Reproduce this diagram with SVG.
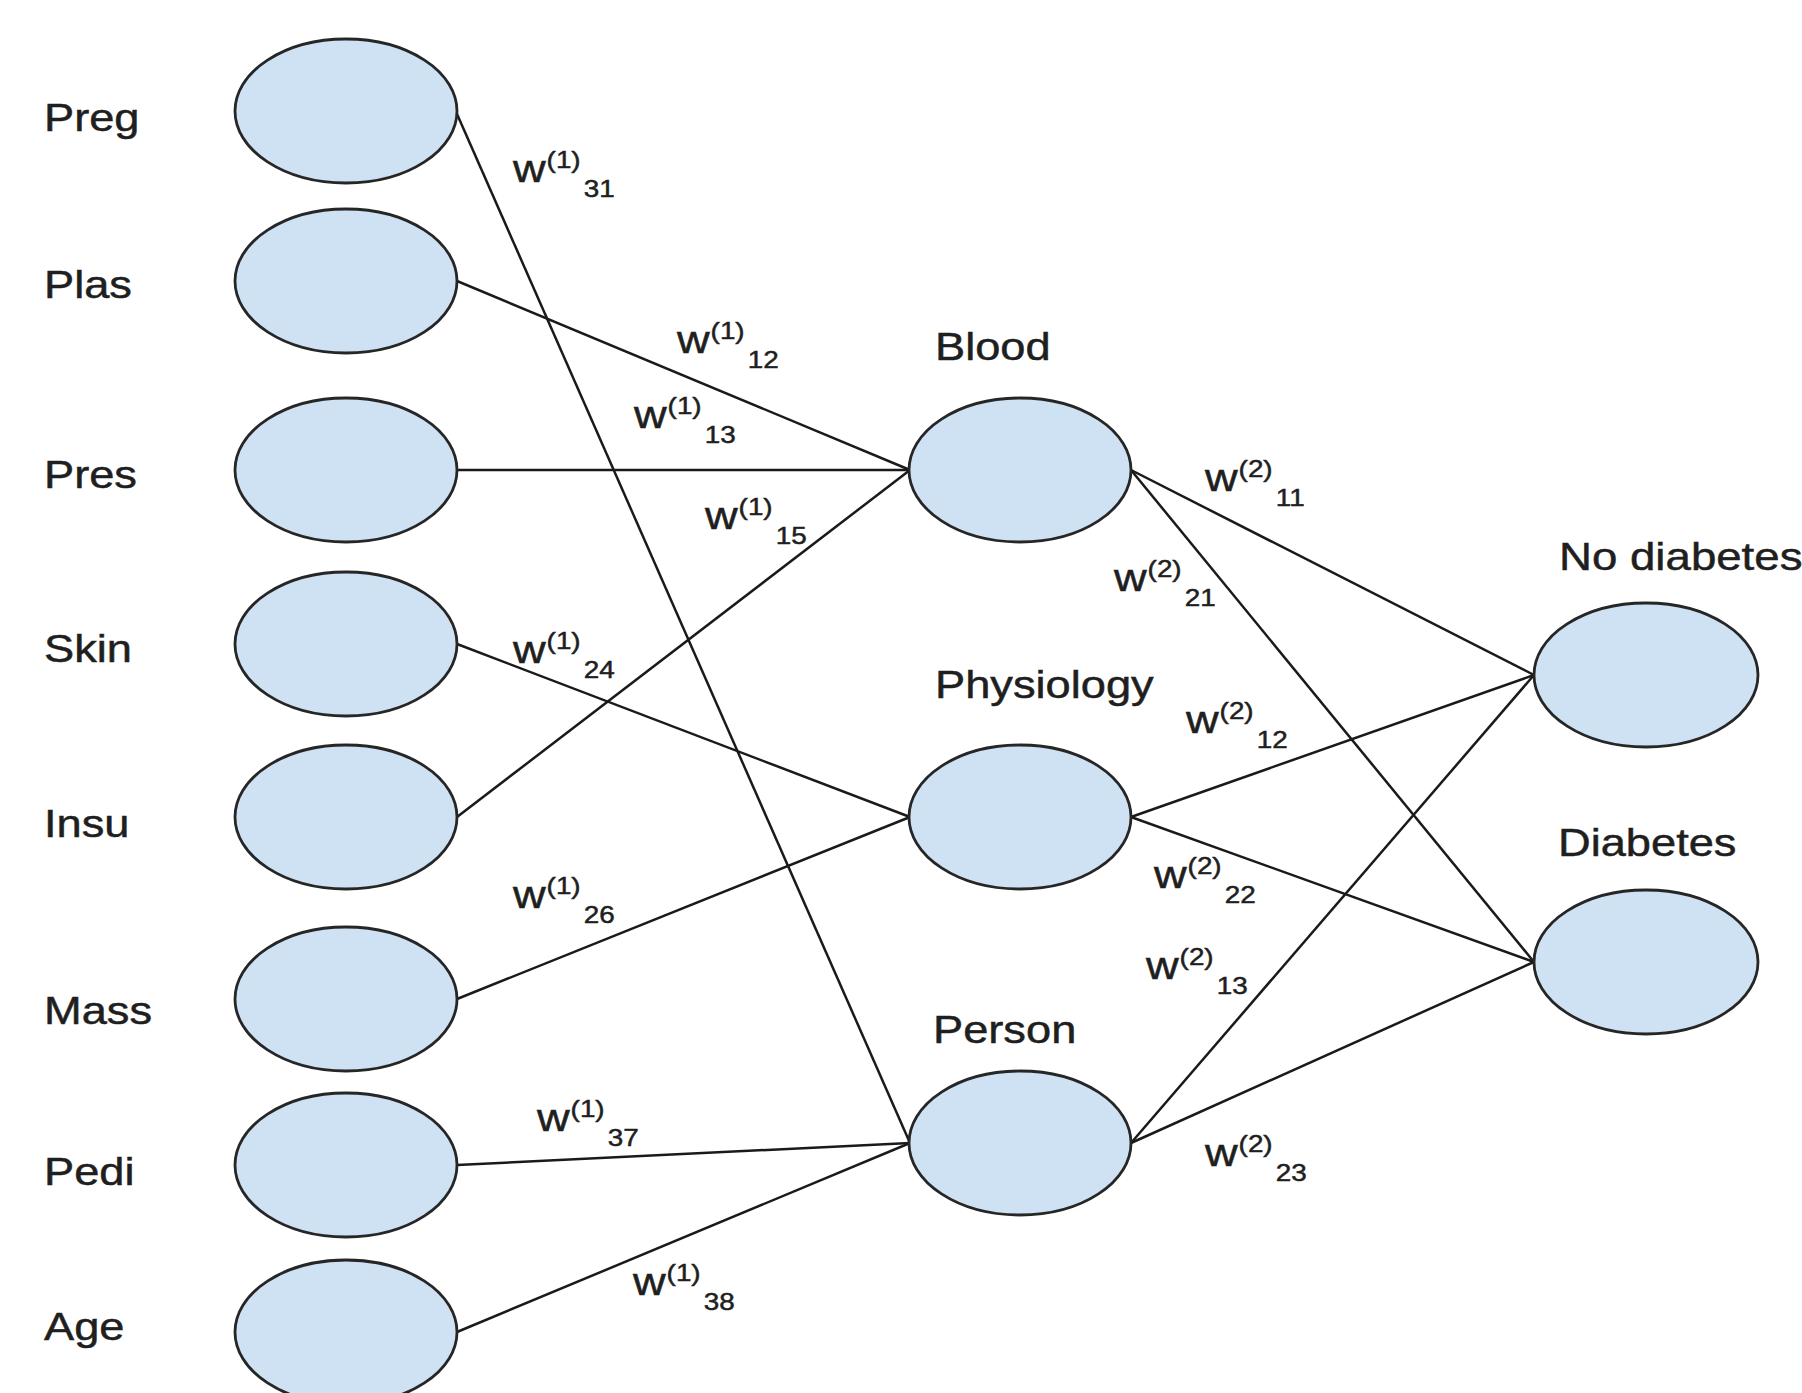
<svg xmlns="http://www.w3.org/2000/svg" width="1802" height="1393" viewBox="0 0 1802 1393">
<style>
.node ellipse{fill:#cfe2f3;stroke:#262626;stroke-width:2.8}
.lbl{font-family:"Liberation Sans",Arial,sans-serif;font-size:39px;fill:#1f1f1f;stroke:#1f1f1f;stroke-width:0.5}
.conn line{stroke:#1a1a1a;stroke-width:2.5;fill:none}
.wt text{font-family:"Liberation Sans",Arial,sans-serif;fill:#1f1f1f;stroke:#1f1f1f;stroke-width:0.5}
.w{font-size:39px}
.s{font-size:24px}
</style>
<rect width="1802" height="1393" fill="#ffffff"/>
<g id="connectors" class="conn">
<line x1="457" y1="114" x2="910" y2="1143"/>
<line x1="457" y1="281" x2="910" y2="470"/>
<line x1="457" y1="470" x2="910" y2="470"/>
<line x1="457" y1="817" x2="910" y2="470"/>
<line x1="457" y1="644" x2="910" y2="817"/>
<line x1="457" y1="999" x2="910" y2="817"/>
<line x1="457" y1="1165" x2="910" y2="1143"/>
<line x1="457" y1="1332" x2="910" y2="1143"/>
<line x1="1131" y1="470" x2="1534" y2="675"/>
<line x1="1131" y1="470" x2="1534" y2="962"/>
<line x1="1131" y1="817" x2="1534" y2="675"/>
<line x1="1131" y1="817" x2="1534" y2="962"/>
<line x1="1131" y1="1143" x2="1534" y2="675"/>
<line x1="1131" y1="1143" x2="1534" y2="962"/>
</g>
<g id="weights" class="wt">
<g transform="translate(513 182) scale(1.16 1)"><text class="w">w</text><text class="s" x="29" y="-14">(1)</text><text class="s" x="61" y="15">31</text></g>
<g transform="translate(677 353) scale(1.16 1)"><text class="w">w</text><text class="s" x="29" y="-14">(1)</text><text class="s" x="61" y="15">12</text></g>
<g transform="translate(634 428) scale(1.16 1)"><text class="w">w</text><text class="s" x="29" y="-14">(1)</text><text class="s" x="61" y="15">13</text></g>
<g transform="translate(705 529) scale(1.16 1)"><text class="w">w</text><text class="s" x="29" y="-14">(1)</text><text class="s" x="61" y="15">15</text></g>
<g transform="translate(513 663) scale(1.16 1)"><text class="w">w</text><text class="s" x="29" y="-14">(1)</text><text class="s" x="61" y="15">24</text></g>
<g transform="translate(513 908) scale(1.16 1)"><text class="w">w</text><text class="s" x="29" y="-14">(1)</text><text class="s" x="61" y="15">26</text></g>
<g transform="translate(537 1131) scale(1.16 1)"><text class="w">w</text><text class="s" x="29" y="-14">(1)</text><text class="s" x="61" y="15">37</text></g>
<g transform="translate(633 1295) scale(1.16 1)"><text class="w">w</text><text class="s" x="29" y="-14">(1)</text><text class="s" x="61" y="15">38</text></g>
<g transform="translate(1205 491) scale(1.16 1)"><text class="w">w</text><text class="s" x="29" y="-14">(2)</text><text class="s" x="61" y="15">11</text></g>
<g transform="translate(1114 591) scale(1.16 1)"><text class="w">w</text><text class="s" x="29" y="-14">(2)</text><text class="s" x="61" y="15">21</text></g>
<g transform="translate(1186 733) scale(1.16 1)"><text class="w">w</text><text class="s" x="29" y="-14">(2)</text><text class="s" x="61" y="15">12</text></g>
<g transform="translate(1154 888) scale(1.16 1)"><text class="w">w</text><text class="s" x="29" y="-14">(2)</text><text class="s" x="61" y="15">22</text></g>
<g transform="translate(1146 979) scale(1.16 1)"><text class="w">w</text><text class="s" x="29" y="-14">(2)</text><text class="s" x="61" y="15">13</text></g>
<g transform="translate(1205 1166) scale(1.16 1)"><text class="w">w</text><text class="s" x="29" y="-14">(2)</text><text class="s" x="61" y="15">23</text></g>
</g>
<g id="node-preg" class="node"><ellipse cx="346" cy="111" rx="111" ry="72"/><text class="lbl" transform="translate(44 131) scale(1.16 1)">Preg</text></g>
<g id="node-plas" class="node"><ellipse cx="346" cy="281" rx="111" ry="72"/><text class="lbl" transform="translate(44 298) scale(1.16 1)">Plas</text></g>
<g id="node-pres" class="node"><ellipse cx="346" cy="470" rx="111" ry="72"/><text class="lbl" transform="translate(44 488) scale(1.16 1)">Pres</text></g>
<g id="node-skin" class="node"><ellipse cx="346" cy="644" rx="111" ry="72"/><text class="lbl" transform="translate(44 662) scale(1.16 1)">Skin</text></g>
<g id="node-insu" class="node"><ellipse cx="346" cy="817" rx="111" ry="72"/><text class="lbl" transform="translate(44 837) scale(1.16 1)">Insu</text></g>
<g id="node-mass" class="node"><ellipse cx="346" cy="999" rx="111" ry="72"/><text class="lbl" transform="translate(44 1024) scale(1.16 1)">Mass</text></g>
<g id="node-pedi" class="node"><ellipse cx="346" cy="1165" rx="111" ry="72"/><text class="lbl" transform="translate(44 1185) scale(1.16 1)">Pedi</text></g>
<g id="node-age" class="node"><ellipse cx="346" cy="1332" rx="111" ry="72"/><text class="lbl" transform="translate(44 1340) scale(1.16 1)">Age</text></g>
<g id="node-blood" class="node"><ellipse cx="1020" cy="470" rx="111" ry="72"/><text class="lbl" transform="translate(935 360) scale(1.16 1)">Blood</text></g>
<g id="node-physiology" class="node"><ellipse cx="1020" cy="817" rx="111" ry="72"/><text class="lbl" transform="translate(935 698) scale(1.16 1)">Physiology</text></g>
<g id="node-person" class="node"><ellipse cx="1020" cy="1143" rx="111" ry="72"/><text class="lbl" transform="translate(933 1043) scale(1.16 1)">Person</text></g>
<g id="node-nodiabetes" class="node"><ellipse cx="1646" cy="675" rx="112" ry="72"/><text class="lbl" transform="translate(1559 570) scale(1.17 1)">No diabetes</text></g>
<g id="node-diabetes" class="node"><ellipse cx="1646" cy="962" rx="112" ry="72"/><text class="lbl" transform="translate(1558 856) scale(1.16 1)">Diabetes</text></g>
</svg>
